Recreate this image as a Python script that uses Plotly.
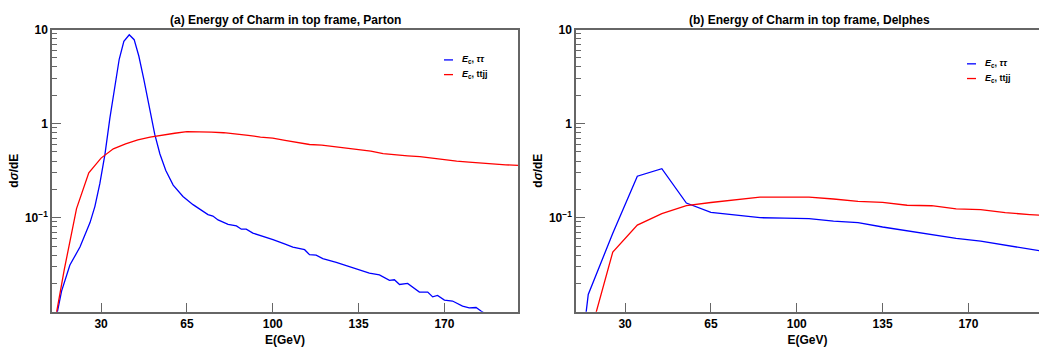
import plotly.graph_objects as go

# ---------------- data ----------------
# (a) Parton level
a_tt_E = [11, 12.2, 13.9, 17.3, 21.4, 25.5, 27.5, 29.5, 31.6, 33.6, 35.6, 37.4, 39.3, 41.5,
          43.5, 45.4, 47.4, 49.9, 51.9, 54.0, 56.4, 59.4, 63.4, 67.5, 70.9, 73.6, 75.6,
          77.7, 81.8, 85.2, 87.2, 89.2, 91.9, 96.7, 100.1, 104.8, 108.2, 113.0, 115.0,
          117.7, 120.4, 125.9, 131.3, 134.0, 139.4, 143.5, 147.6, 149.6, 151.7, 155.0,
          159.8, 163.2, 165.2, 167.2, 170.0, 173.3, 177.4, 180.1, 182.9, 184.9, 187, 190]
a_tt_v = [0.007, 0.0099, 0.0166, 0.0314, 0.0487, 0.0887, 0.132, 0.23, 0.475, 1.146, 2.35, 4.83,
          7.5, 8.8, 7.8, 5.23, 2.99, 1.46, 0.768, 0.475, 0.318, 0.222, 0.168, 0.1376, 0.120,
          0.108, 0.104, 0.0946, 0.085, 0.0819, 0.0755, 0.0755, 0.0686, 0.063, 0.0586, 0.0527,
          0.0487, 0.0457, 0.0405, 0.0400, 0.0368, 0.0334, 0.0301, 0.0289, 0.0257, 0.0247,
          0.0216, 0.0219, 0.0195, 0.0200, 0.0162, 0.0162, 0.0144, 0.0149, 0.0133, 0.0130,
          0.0115, 0.0110, 0.0111, 0.0102, 0.0094, 0.0089]

a_ttjj_E = [10, 15, 20, 25, 30, 35, 40, 45, 50, 55, 60, 65, 70, 75, 80, 85, 90, 95, 100,
            105, 110, 115, 120, 125, 130, 135, 140, 145, 150, 155, 160, 165, 170, 175,
            180, 185, 190, 195, 200]
a_ttjj_v = [0.0053, 0.028, 0.125, 0.30, 0.43, 0.54, 0.61, 0.67, 0.72, 0.76, 0.79, 0.82, 0.82,
            0.81, 0.80, 0.78, 0.75, 0.72, 0.70, 0.665, 0.63, 0.60, 0.59, 0.57, 0.545, 0.53,
            0.51, 0.48, 0.465, 0.455, 0.445, 0.43, 0.41, 0.40, 0.39, 0.38, 0.37, 0.365, 0.36]

# (b) Delphes level
b_E = [5, 15, 25, 35, 45, 55, 65, 75, 85, 95, 105, 115, 125, 135, 145, 155, 165, 175, 185, 195, 205]
b_tt_v = [0.0001, 0.0153, 0.0683, 0.276, 0.332, 0.143, 0.114, 0.1067, 0.100, 0.0988, 0.0977,
          0.092, 0.0888, 0.0796, 0.0727, 0.067, 0.0604, 0.0562, 0.0507, 0.0465, 0.042]
b_ttjj_v = [0.0005, 0.0049, 0.0432, 0.0835, 0.1106, 0.134, 0.145, 0.156, 0.1655, 0.1655, 0.1655,
            0.158, 0.149, 0.1456, 0.1356, 0.134, 0.124, 0.122, 0.113, 0.108, 0.104]

titles = ["(a) Energy of Charm in top frame, Parton", "(b) Energy of Charm in top frame, Delphes"]
x_ticks = [30, 65, 100, 135, 170]
y_major = [0.1, 1, 10]
y_major_text = ["10<sup>\u22121</sup>", "1", "10"]
y_minor = [m * 10 ** e for e in (-2, -1, 0) for m in range(2, 10)]

# ---------------- figure ----------------
W, H = 1039, 349
FONT = "Liberation Sans, Arial, Helvetica, sans-serif"
BLUE, RED = "#0000ff", "#ff0000"
AX = "#666666"

fig = go.Figure()
fig.add_trace(go.Scatter(x=a_tt_E, y=a_tt_v, mode="lines", line=dict(color=BLUE, width=1.3),
                         name="E_c, ττ", xaxis="x", yaxis="y", showlegend=False))
fig.add_trace(go.Scatter(x=a_ttjj_E, y=a_ttjj_v, mode="lines", line=dict(color=RED, width=1.3),
                         name="E_c, ttjj", xaxis="x", yaxis="y", showlegend=False))
fig.add_trace(go.Scatter(x=b_E, y=b_tt_v, mode="lines", line=dict(color=BLUE, width=1.3),
                         name="E_c, ττ", xaxis="x2", yaxis="y2", showlegend=False))
fig.add_trace(go.Scatter(x=b_E, y=b_ttjj_v, mode="lines", line=dict(color=RED, width=1.3),
                         name="E_c, ttjj", xaxis="x2", yaxis="y2", showlegend=False))

dom_y = [1 - 311 / H, 1 - 23 / H]
dom_x1 = [52 / W, 518 / W]
dom_x2 = [576 / W, 1.0]
PXU = (518 - 52) / 190.0
rng2 = [10, 10 + (W - 576) / PXU]

def xaxis(domain, anchor, rng):
    return dict(domain=domain, anchor=anchor, range=rng, tickmode="array", tickvals=x_ticks,
                ticktext=["<b>%d</b>" % v for v in x_ticks],
                ticks="inside", ticklen=9, tickcolor=AX, tickwidth=1,
                showline=True, linecolor=AX, linewidth=1.5, mirror=True,
                showgrid=False, zeroline=False,
                tickfont=dict(family=FONT, size=12, color="black"),
                title=dict(text="<b>E(GeV)</b>", font=dict(family=FONT, size=12, color="black"),
                           standoff=6))

def yaxis(domain, anchor, mirror):
    return dict(domain=domain, anchor=anchor, type="log", range=[-2, 1],
                tickmode="array", tickvals=y_major, ticktext=["<b>%s</b>" % t for t in y_major_text],
                ticks="inside", ticklen=9, tickcolor=AX, tickwidth=1,
                minor=dict(tickmode="array", tickvals=y_minor, ticks="inside", ticklen=5,
                           tickcolor=AX, tickwidth=1),
                showline=True, linecolor=AX, linewidth=1.5, mirror=mirror,
                showgrid=False, zeroline=False,
                tickfont=dict(family=FONT, size=12, color="black"),
                title=dict(text="<b>d<i>σ</i>/dE</b>", font=dict(family=FONT, size=12, color="black"),
                           standoff=4))

ann = []
for t, cx in zip(titles, [(52 + 518) / 2, (577 + 1041) / 2]):
    ann.append(dict(text="<b>%s</b>" % t, x=cx / W, y=1 - 13 / H, xref="paper", yref="paper",
                    xanchor="center", yanchor="middle", showarrow=False,
                    font=dict(family=FONT, size=12, color="black")))

legend_rows = [(444, 54, BLUE, "<b><i>E</i><sub>c</sub>, <i>ττ</i></b>"),
               (444, 69, RED, "<b><i>E</i><sub>c</sub>, ttjj</b>"),
               (967, 58, BLUE, "<b><i>E</i><sub>c</sub>, <i>ττ</i></b>"),
               (967, 73, RED, "<b><i>E</i><sub>c</sub>, ttjj</b>")]
shapes = []
for lx, ly, col, txt in legend_rows:
    shapes.append(dict(type="line", xref="paper", yref="paper", x0=lx / W, x1=(lx + 9) / W,
                       y0=1 - ly / H, y1=1 - ly / H, line=dict(color=col, width=1.3)))
    ann.append(dict(text=txt, x=(lx + 16) / W, y=1 - ly / H, xref="paper", yref="paper",
                    xanchor="left", yanchor="middle", showarrow=False,
                    font=dict(family=FONT, size=9, color="black")))

fig.update_layout(
    width=W, height=H, margin=dict(l=0, r=0, t=0, b=0),
    paper_bgcolor="white", plot_bgcolor="white",
    xaxis=xaxis(dom_x1, "y", [10, 200]), yaxis=yaxis(dom_y, "x", True),
    xaxis2=xaxis(dom_x2, "y2", rng2), yaxis2=yaxis(dom_y, "x2", False),
    annotations=ann, shapes=shapes, showlegend=False,
)

fig.write_html("out.html")
